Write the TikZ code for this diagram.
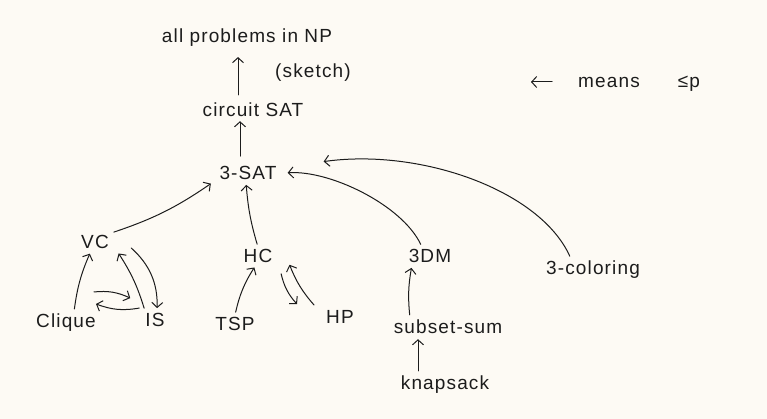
\documentclass[tikz,border=0pt]{standalone}
\usepackage{fontspec}
\setmainfont{Liberation Sans}[LetterSpace=6]
\usetikzlibrary{arrows.meta}
\definecolor{paper}{RGB}{253,250,244}
\definecolor{ink}{RGB}{28,28,28}
\tikzset{>={Straight Barb[length=5pt,width=11pt]}}

\begin{document}
\begin{tikzpicture}[x=1pt,y=-1pt,every node/.style={font=\fontsize{19}{22}\selectfont,text=ink,inner sep=2pt},pen/.style={ink,line width=1pt,->,line cap=round,shorten <=3pt,shorten >=3pt}]
\fill[paper] (0,0) rectangle (767,419);
\node (np) at (247,38) {all problems in NP};
\node (sk) at (313,73) {(sketch)};
\node (csat) at (253,110) {circuit SAT};
\node (sat) at (248,173) {3-SAT};
\node (vc) at (95,242) {VC};
\node (hc) at (258,256) {HC};
\node (dm) at (430,256) {3DM};
\node (col) at (593,270) {3-coloring};
\node (clq) at (66,323) {Clique};
\node (is) at (155,320) {IS};
\node (tsp) at (235,324) {TSP};
\node (hp) at (340,317) {HP};
\node (ss) at (448,327) {subset-sum};
\node (ks) at (445,385) {knapsack};
\coordinate (legtail) at (552,82);
\coordinate (leghead) at (531,82);
\node (mn) at (609,82) {means};
\node (lp) at (689,84) {≤p};
\draw[pen,shorten <=0pt,shorten >=0pt] (legtail) -- (leghead);
\draw[pen,shorten <=6pt,shorten >=8pt] ([xshift=-15pt]csat.north) -- ([xshift=-9pt]np.south);
\draw[pen,shorten <=8pt,shorten >=2pt] ([xshift=-8pt]sat.north) -- ([xshift=-13pt]csat.south);
\draw[pen] (vc.north east) to[bend right=8] ([xshift=-4pt]sat.south west);
\draw[pen] (hc.north) to[bend left=6] ([xshift=-2pt]sat.south);
\draw[pen] ([xshift=-8pt]dm.north) .. controls (402,205) and (330,170) .. ([xshift=6pt]sat.east);
\draw[pen] ([xshift=-22pt]col.north) .. controls (540,190) and (420,148) .. ([xshift=42pt,yshift=11pt]sat.east);
\draw[pen] ([xshift=8pt]clq.north) to[bend left=8] ([xshift=-4pt]vc.south);
\draw[pen] ([xshift=-10pt]is.north) to[bend right=8] ([xshift=6pt]vc.south east);
\draw[pen] ([xshift=18pt,yshift=-4pt]vc.east) to[bend left=25] ([xshift=2pt]is.north);
\draw[pen,shorten <=0pt,shorten >=0pt] ([shift={(-4pt,20pt)}]clq.north east) to[bend left=15] ([shift={(-13pt,13pt)}]is.north west);
\draw[pen,shorten <=0pt,shorten >=0pt] ([shift={(-4pt,3pt)}]is.north west) to[bend left=15] ([shift={(-2pt,8pt)}]clq.north east);
\draw[pen] (tsp.north) to[bend left=10] ([xshift=-2pt]hc.south);
\draw[pen] ([xshift=6pt,yshift=-6pt]hc.south east) to[bend right=15] ([shift={(-25pt,2pt)}]hp.north west);
\draw[pen] ([shift={(-8pt,1pt)}]hp.north west) to[bend left=10] ([shift={(14pt,-6pt)}]hc.east);
\draw[pen] ([xshift=-38pt]ss.north) to[bend left=8] ([xshift=-18pt]dm.south);
\draw[pen] ([xshift=-27pt]ks.north) -- ([xshift=-30pt]ss.south);
\end{tikzpicture}
\end{document}
